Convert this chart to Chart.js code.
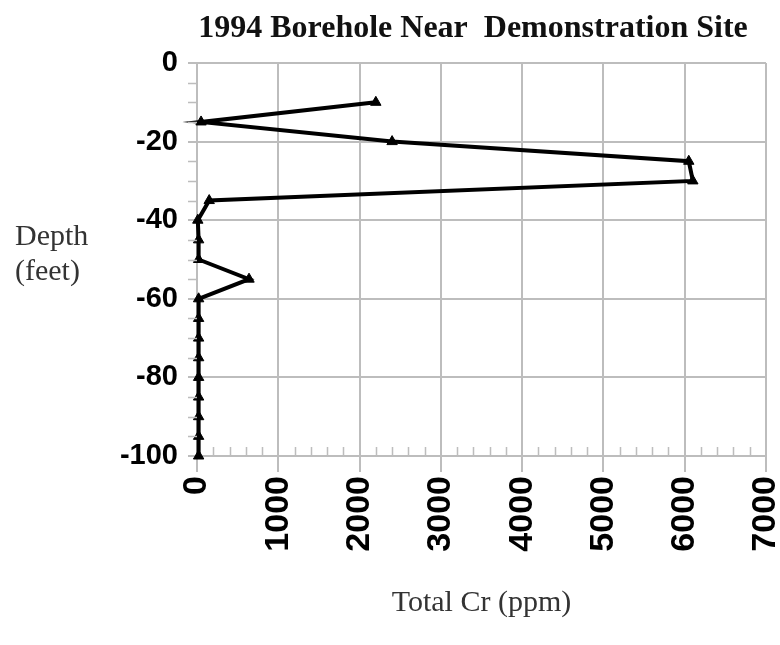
<!DOCTYPE html>
<html>
<head>
<meta charset="utf-8">
<title>1994 Borehole Near Demonstration Site</title>
<script src="https://cdn.jsdelivr.net/npm/chart.js@4.4.1/dist/chart.umd.min.js"></script>
<style>
  html, body { margin: 0; padding: 0; background: #fff; }
  #wrap { width: 780px; height: 645px; }
</style>
</head>
<body>
<div id="wrap"><canvas id="grafico"></canvas></div>
<script>
// --- data ---
const depthFeet = [-10, -15, -20, -25, -30, -35, -40, -45, -50, -55, -60, -65, -70, -75, -80, -85, -90, -95, -100];
const totalCr = [2200, 50, 2400, 6050, 6100, 150, 10, 20, 20, 640, 20, 20, 20, 20, 20, 20, 20, 20, 20];

const xTicks = [0, 1000, 2000, 3000, 4000, 5000, 6000, 7000];
const yTicks = [0, -20, -40, -60, -80, -100];
const xMinorStep = 200;
const yMinorStep = 5;

const chartTitle = '1994 Borehole Near  Demonstration Site';
const xTitle = 'Total Cr (ppm)';
const yTitle = ['Depth', '(feet)'];

const gridColor = '#bdbdbd';
const serif = '"Liberation Serif", "Times New Roman", serif';
const sans = '"Liberation Sans", Arial, sans-serif';

// minor ticks, horizontal y title and chart title
const extrasPlugin = {
    id: 'extras',
    afterDraw(chart) {
        const { ctx, chartArea, scales } = chart;
        const x = scales.x, y = scales.y;
        ctx.save();
        ctx.strokeStyle = gridColor;
        ctx.lineWidth = 1.5;
        ctx.beginPath();
        for (let v = y.min + yMinorStep; v < y.max; v += yMinorStep) {
            if (yTicks.includes(v)) continue;
            const py = Math.round(y.getPixelForValue(v)) + 0.5;
            ctx.moveTo(chartArea.left - 9, py);
            ctx.lineTo(chartArea.left, py);
        }
        for (let v = x.min + xMinorStep; v < x.max; v += xMinorStep) {
            if (xTicks.includes(v)) continue;
            const px = Math.round(x.getPixelForValue(v)) + 0.5;
            ctx.moveTo(px, chartArea.bottom - 9);
            ctx.lineTo(px, chartArea.bottom);
        }
        ctx.stroke();

        ctx.fillStyle = '#333';
        ctx.font = '30px ' + serif;
        ctx.textAlign = 'left';
        ctx.textBaseline = 'alphabetic';
        ctx.fillText(yTitle[0], 15, 245);
        ctx.fillText(yTitle[1], 15, 280);

        ctx.fillStyle = '#111';
        ctx.font = 'bold 32px ' + serif;
        ctx.textAlign = 'center';
        ctx.fillText(chartTitle, 473, 37);
        ctx.restore();
    }
};

const ctx = document.getElementById('grafico').getContext('2d');
new Chart(ctx, {
    type: 'line',
    data: {
        datasets: [{
            label: 'Total Cr',
            data: depthFeet.map((d, i) => ({ x: totalCr[i], y: d })),
            borderColor: '#000',
            backgroundColor: '#000',
            borderWidth: 4,
            borderJoinStyle: 'miter',
            tension: 0,
            pointStyle: 'triangle',
            pointRadius: 6,
            pointBackgroundColor: '#000',
            pointBorderColor: '#000',
            pointBorderWidth: 1,
            clip: false
        }]
    },
    options: {
        responsive: true,
        maintainAspectRatio: false,
        animation: false,
        layout: { padding: { top: 63, right: 14, bottom: 24, left: 0 } },
        plugins: {
            legend: { display: false },
            tooltip: { enabled: false },
            title: { display: false }
        },
        scales: {
            x: {
                type: 'linear',
                min: 0,
                max: 7000,
                afterBuildTicks: (scale) => { scale.ticks = xTicks.map(v => ({ value: v })); },
                afterFit: (scale) => {
                    scale.height = 165;
                    scale.paddingLeft = 0;
                    scale.paddingRight = 0;
                },
                ticks: {
                    autoSkip: false,
                    minRotation: 90,
                    maxRotation: 90,
                    padding: 4,
                    color: '#000',
                    font: { family: sans, size: 34, weight: 'bold' },
                    callback: (value) => String(value)
                },
                grid: { color: gridColor, lineWidth: 2, tickLength: 16, tickColor: gridColor },
                border: { color: gridColor, width: 2 },
                title: {
                    display: true,
                    text: xTitle,
                    color: '#333',
                    font: { family: serif, size: 30 },
                    padding: { top: 0, bottom: 0 }
                }
            },
            y: {
                type: 'linear',
                min: -100,
                max: 0,
                afterBuildTicks: (scale) => { scale.ticks = yTicks.map(v => ({ value: v })); },
                afterFit: (scale) => {
                    scale.width = 197;
                    scale.paddingTop = 0;
                    scale.paddingBottom = 0;
                },
                ticks: {
                    padding: 10,
                    color: '#000',
                    font: { family: sans, size: 29, weight: 'bold' },
                    callback: (value) => String(value)
                },
                grid: { color: gridColor, lineWidth: 2, tickLength: 9, tickColor: gridColor },
                border: { color: gridColor, width: 2 }
            }
        }
    },
    plugins: [extrasPlugin]
});
</script>
</body>
</html>
